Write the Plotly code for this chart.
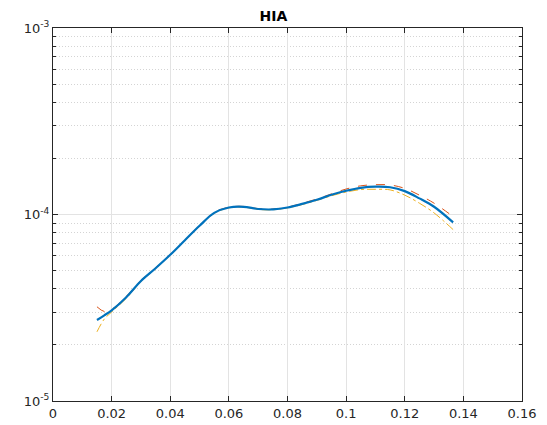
import plotly.graph_objects as go

x = [0.015, 0.0175, 0.02, 0.025, 0.03, 0.035, 0.04, 0.045, 0.05, 0.055, 0.06, 0.065, 0.07,
     0.075, 0.08, 0.085, 0.09, 0.095, 0.1, 0.105, 0.11, 0.115, 0.12, 0.125, 0.13, 0.1365]

blue = [2.72e-5, 2.88e-5, 3.06e-5, 3.6e-5, 4.4e-5, 5.15e-5, 6.08e-5, 7.28e-5, 8.7e-5, 1.02e-4,
        1.09e-4, 1.10e-4, 1.07e-4, 1.065e-4, 1.09e-4, 1.14e-4, 1.20e-4, 1.275e-4, 1.34e-4, 1.39e-4,
        1.41e-4, 1.40e-4, 1.335e-4, 1.22e-4, 1.10e-4, 9.07e-5]

red = [3.2e-5, 3.02e-5, 3.1e-5, 3.64e-5, 4.43e-5, 5.18e-5, 6.1e-5, 7.3e-5, 8.75e-5, 1.025e-4,
       1.095e-4, 1.105e-4, 1.075e-4, 1.07e-4, 1.095e-4, 1.15e-4, 1.21e-4, 1.29e-4, 1.37e-4, 1.425e-4,
       1.445e-4, 1.44e-4, 1.38e-4, 1.27e-4, 1.15e-4, 9.75e-5]

yellow = [2.35e-5, 2.75e-5, 3.0e-5, 3.55e-5, 4.37e-5, 5.12e-5, 6.05e-5, 7.25e-5, 8.65e-5, 1.015e-4,
          1.085e-4, 1.095e-4, 1.065e-4, 1.06e-4, 1.085e-4, 1.13e-4, 1.19e-4, 1.26e-4, 1.32e-4, 1.36e-4,
          1.365e-4, 1.355e-4, 1.27e-4, 1.15e-4, 1.02e-4, 8.3e-5]

x_ticks = [0, 0.02, 0.04, 0.06, 0.08, 0.1, 0.12, 0.14, 0.16]
x_ticktext = ["0", "0.02", "0.04", "0.06", "0.08", "0.1", "0.12", "0.14", "0.16"]
y_ticks = [1e-5, 1e-4, 1e-3]
y_ticktext = ["10<sup>-5</sup>", "10<sup>-4</sup>", "10<sup>-3</sup>"]

fig = go.Figure()
fig.add_trace(go.Scatter(x=x, y=yellow, mode="lines", line=dict(color="#EDB120", width=1, dash="dashdot", shape="spline", smoothing=1.0)))
fig.add_trace(go.Scatter(x=x, y=red, mode="lines", line=dict(color="#D95319", width=1, dash="dash", shape="spline", smoothing=1.0)))
fig.add_trace(go.Scatter(x=x, y=blue, mode="lines", line=dict(color="#0072BD", width=2.2, shape="spline", smoothing=1.0)))

axcol = "#262626"
fig.update_layout(
    width=547, height=425,
    margin=dict(l=53, r=25, t=28, b=24, autoexpand=False),
    paper_bgcolor="white", plot_bgcolor="white",
    showlegend=False,
    font=dict(family="DejaVu Sans", size=13, color=axcol),
    title=dict(text="<b>HIA</b>", x=0.5, xanchor="center", y=0.962, yanchor="middle",
               font=dict(size=14, color="black")),
    xaxis=dict(range=[0, 0.16], tickvals=x_ticks, ticktext=x_ticktext, automargin=False,
               showgrid=True, gridcolor="#e3e3e3", gridwidth=1,
               ticks="inside", ticklen=5, tickcolor=axcol,
               showline=True, linecolor=axcol, linewidth=1, mirror="allticks", zeroline=False),
    yaxis=dict(type="log", range=[-5, -3], tickvals=y_ticks, ticktext=y_ticktext, automargin=False,
               showgrid=True, gridcolor="#e3e3e3", gridwidth=1,
               ticks="inside", ticklen=5, tickcolor=axcol,
               showline=True, linecolor=axcol, linewidth=1, mirror="allticks", zeroline=False,
               minor=dict(dtick="D1", ticks="inside", ticklen=3, tickcolor=axcol,
                          showgrid=True, gridcolor="#d4d4d4", griddash="1px,2px", gridwidth=1)),
)

fig.write_html("out.html")
